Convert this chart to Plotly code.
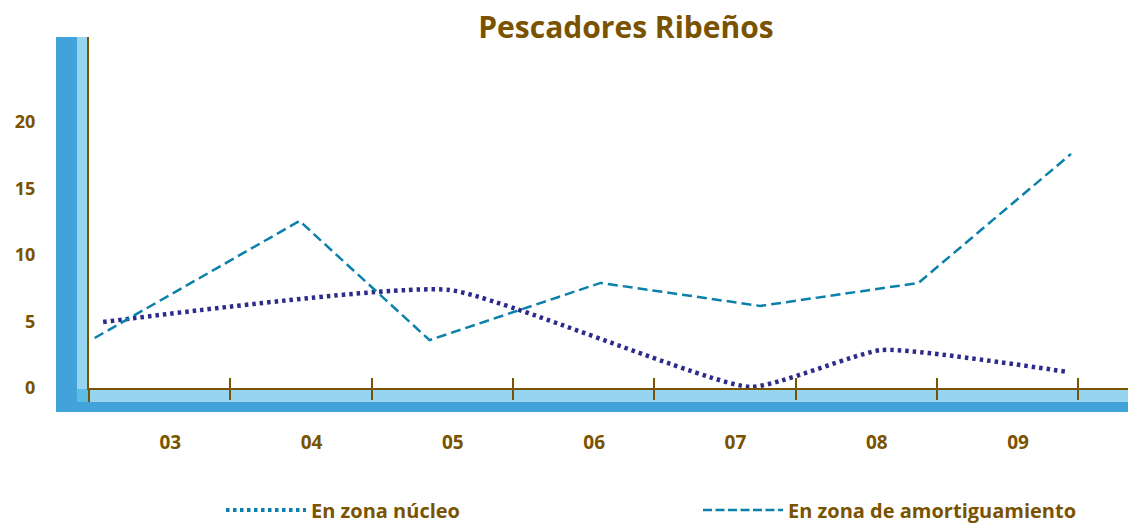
import plotly.graph_objects as go

# ---- data ----
years = ["03", "04", "05", "06", "07", "08", "09"]
y_ticks = [0, 5, 10, 15, 20]

nucleo_x = [0.10, 2.55, 4.68, 5.61, 6.93]
nucleo_y = [4.96, 7.37, 0.08, 2.86, 1.2]

amort_x = [0.04, 1.49, 2.41, 3.62, 4.75, 5.87, 6.95]
amort_y = [3.76, 12.56, 3.6, 7.9, 6.17, 7.9, 17.6]

# ---- style ----
BROWN = "#7a5300"
DARK_BLUE = "#42a2da"
LIGHT_BLUE = "#96d4ef"
CORNER_BLUE = "#5bbde6"
TEAL = "#0a80aa"
NAVY = "#2e2a8a"
FONT = "Open Sans"

W, H = 1128, 525
L, R, T, B = 89, 0, 37, 137
PW, PH = W - L - R, H - T - B
XMAX = PW / 141.3
YMAX = PH / 13.3


def px(x):
    return (x - L) / PW


def py(y):
    return (H - B - y) / PH


fig = go.Figure()

fig.add_trace(go.Scatter(
    x=nucleo_x, y=nucleo_y, mode="lines", showlegend=False,
    line=dict(color=NAVY, width=4.5, dash="3.5px,4px", shape="spline", smoothing=0.45),
    hoverinfo="skip"))
fig.add_trace(go.Scatter(
    x=amort_x, y=amort_y, mode="lines", showlegend=False,
    line=dict(color=TEAL, width=2.5, dash="10px,5px"),
    hoverinfo="skip"))

# legend entries
fig.add_trace(go.Scatter(
    x=[None], y=[None], mode="lines", name="En zona núcleo", legend="legend",
    line=dict(color=TEAL, width=4, dash="3.5px,3.5px")))
fig.add_trace(go.Scatter(
    x=[None], y=[None], mode="lines", name="En zona de amortiguamiento", legend="legend2",
    line=dict(color=TEAL, width=2.5, dash="9px,3.5px")))

# dummy traces for overlay axes
fig.add_trace(go.Scatter(x=[None], y=[None], xaxis="x2", showlegend=False, hoverinfo="skip"))
fig.add_trace(go.Scatter(x=[None], y=[None], xaxis="x3", showlegend=False, hoverinfo="skip"))

shapes = [
    dict(type="rect", xref="paper", yref="paper", x0=px(56), x1=px(77), y0=py(412), y1=py(37),
         fillcolor=DARK_BLUE, line=dict(width=0), layer="below"),
    dict(type="rect", xref="paper", yref="paper", x0=px(77), x1=px(88), y0=py(402), y1=py(37),
         fillcolor=LIGHT_BLUE, line=dict(width=0), layer="below"),
    dict(type="rect", xref="paper", yref="paper", x0=px(77), x1=1, y0=py(402), y1=py(389),
         fillcolor=LIGHT_BLUE, line=dict(width=0), layer="below"),
    dict(type="rect", xref="paper", yref="paper", x0=px(77), x1=px(88), y0=py(402), y1=py(389),
         fillcolor=CORNER_BLUE, line=dict(width=0), layer="below"),
    dict(type="rect", xref="paper", yref="paper", x0=px(56), x1=1, y0=py(412), y1=py(402),
         fillcolor=DARK_BLUE, line=dict(width=0), layer="below"),
    dict(type="line", xref="paper", yref="paper", x0=0, x1=0, y0=py(402), y1=0,
         line=dict(color=BROWN, width=2)),
]

legend_common = dict(orientation="h", xref="container", yref="container",
                     xanchor="left", yanchor="middle", y=(H - 510) / H,
                     itemwidth=80, font=dict(family=FONT, size=20, color=BROWN, weight="bold"),
                     bgcolor="rgba(0,0,0,0)", borderwidth=0)

fig.update_layout(
    width=W, height=H,
    margin=dict(l=L, r=R, t=T, b=B, autoexpand=False),
    paper_bgcolor="white", plot_bgcolor="rgba(0,0,0,0)",
    title=dict(text="<b>Pescadores Ribeños</b>", x=626 / W, xanchor="center",
               y=1 - 27 / H, yanchor="middle",
               font=dict(family=FONT, size=30, color=BROWN)),
    xaxis=dict(range=[0, XMAX], tickvals=list(range(8)), showticklabels=False,
               ticks="outside", ticklen=10, tickwidth=2, tickcolor=BROWN,
               showline=True, linecolor=BROWN, linewidth=2, showgrid=False, zeroline=False),
    xaxis2=dict(overlaying="x", anchor="y", side="bottom", range=[0, XMAX],
                tickvals=list(range(8)), showticklabels=False,
                ticks="inside", ticklen=10, tickwidth=2, tickcolor=BROWN,
                showline=False, showgrid=False, zeroline=False),
    xaxis3=dict(overlaying="x", anchor="y", side="bottom", range=[0, XMAX],
                tickvals=[i + 0.575 for i in range(len(years))], ticktext=years,
                ticks="", ticklabelstandoff=41,
                tickfont=dict(family=FONT, size=19, color=BROWN, weight="bold"),
                showline=False, showgrid=False, zeroline=False),
    yaxis=dict(range=[0, YMAX], tickvals=y_ticks, ticks="", ticklabelstandoff=48,
               tickfont=dict(family=FONT, size=18, color=BROWN, weight="bold"),
               showline=True, linecolor=BROWN, linewidth=2, showgrid=False, zeroline=False),
    legend=dict(legend_common, x=221 / W),
    legend2=dict(legend_common, x=698 / W),
    shapes=shapes,
)

fig.write_html(
    "out.html",
    config={"responsive": False, "displayModeBar": False},
    post_script="document.body.style.margin='0';document.body.style.overflow='hidden';",
)
